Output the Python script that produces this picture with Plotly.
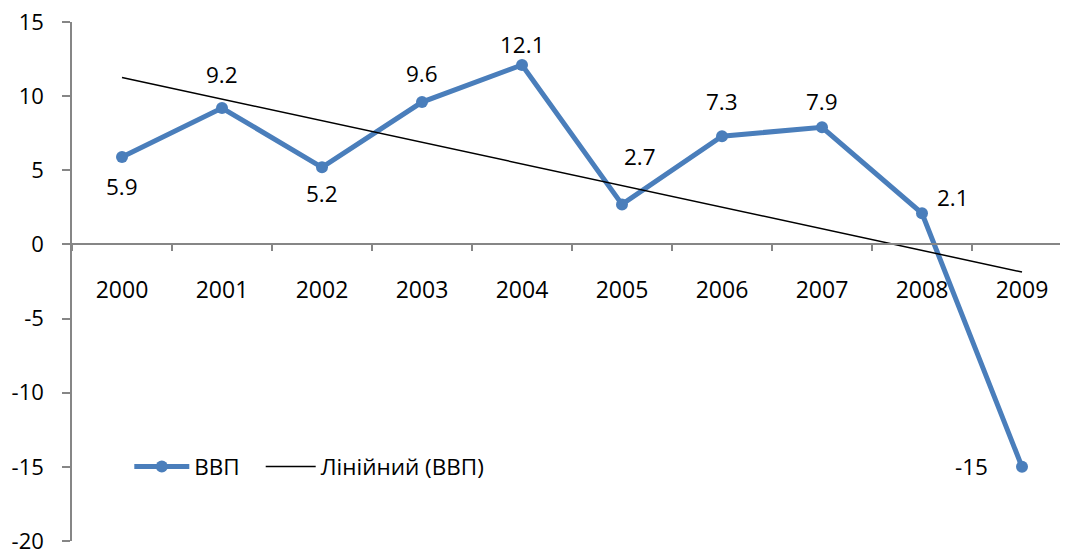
import numpy as np
import plotly.graph_objects as go

years = ["2000", "2001", "2002", "2003", "2004", "2005", "2006", "2007", "2008", "2009"]
gdp = [5.9, 9.2, 5.2, 9.6, 12.1, 2.7, 7.3, 7.9, 2.1, -15]
labels = ["5.9", "9.2", "5.2", "9.6", "12.1", "2.7", "7.3", "7.9", "2.1", "-15"]
y_ticks = [-20, -15, -10, -5, 0, 5, 10, 15]
y_tick_text = ["-20", "-15", "-10", "-5", "0", "5", "10", "15"]

# label offsets (style): px shifts from each point
label_dx = [0, 0, 0, 0, 0, 18, 0, 0, 31, -51]
label_dy = [-30, 34, -26, 29, 21, 48, 35, 26, 16, 0]

idx = np.arange(len(gdp))
slope, intercept = np.polyfit(idx, gdp, 1)
trend = slope * idx + intercept

FONT = "Open Sans, Liberation Sans, Arial, sans-serif"
AXIS = "#868686"
BLUE = "#4A7EBB"

fig = go.Figure()
fig.add_trace(go.Scatter(
    x=years, y=gdp, mode="lines+markers", name="ВВП", legend="legend",
    line=dict(color=BLUE, width=5), marker=dict(color=BLUE, size=12),
))
fig.add_trace(go.Scatter(
    x=years, y=trend, mode="lines", name="Лінійний (ВВП)", legend="legend2",
    line=dict(color="black", width=1.5),
))

for i in range(len(gdp)):
    fig.add_annotation(x=int(idx[i]), y=gdp[i], xref="x", yref="y", text=labels[i], showarrow=False,
                       xshift=label_dx[i], yshift=label_dy[i],
                       font=dict(family=FONT, size=22.5, color="black"))

legend_font = dict(family=FONT, size=22.5, color="black")
fig.update_layout(
    width=1066, height=550,
    margin=dict(l=72, r=6, t=22, b=9, autoexpand=False),
    paper_bgcolor="white", plot_bgcolor="white",
    font=dict(family=FONT, size=22, color="black"),
    showlegend=True,
    legend=dict(orientation="h", x=0.058, y=0.143, xanchor="left", yanchor="middle",
                bgcolor="rgba(0,0,0,0)", itemwidth=55, font=legend_font),
    legend2=dict(orientation="h", x=0.191, y=0.143, xanchor="left", yanchor="middle",
                 bgcolor="rgba(0,0,0,0)", itemwidth=50, font=legend_font),
    xaxis=dict(
        type="category", range=[-0.5, 9.38], automargin=False,
        anchor="free", position=20 / 35,
        showline=True, linecolor=AXIS, linewidth=1.5,
        ticks="outside", tickson="boundaries", ticklen=6, tickcolor=AXIS, tickwidth=1.5,
        ticklabelstandoff=25, tickfont=dict(family=FONT, size=23, color="black"),
        showgrid=False, zeroline=False,
    ),
    yaxis=dict(
        range=[-20, 15], tickvals=y_ticks, ticktext=y_tick_text, automargin=False,
        showline=True, linecolor=AXIS, linewidth=1.5,
        ticks="outside", ticklen=8, tickcolor=AXIS, tickwidth=1.5,
        ticklabelstandoff=14, ticklabeloverflow="allow",
        tickfont=dict(family=FONT, size=22, color="black"),
        showgrid=False, zeroline=False,
    ),
)

fig.write_html("out.html", config={"displayModeBar": False},
               post_script="document.body.style.margin='0';document.body.style.overflow='hidden';")
